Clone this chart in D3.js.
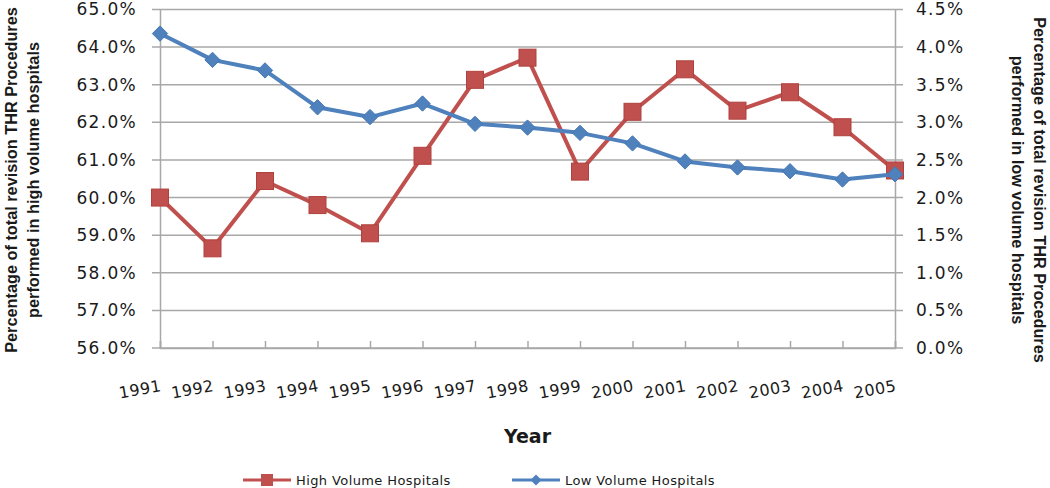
<!DOCTYPE html>
<html lang="en">
  <head>
    <meta charset="utf-8">
    <title>THR revision procedures</title>
    <script src="https://cdn.jsdelivr.net/npm/d3@7/dist/d3.min.js"></script>
    <style>
      body { margin: 0; background: #fff; }
      text { fill: #1a1a1a; }
    </style>
  </head>
  <body>
    <script>
      var w = 1050;
      var h = 488;

      var years = ["1991", "1992", "1993", "1994", "1995", "1996", "1997", "1998",
                   "1999", "2000", "2001", "2002", "2003", "2004", "2005"];
      var highVolume = [60.0, 58.65, 60.44, 59.80, 59.05, 61.11, 63.13, 63.72,
                        60.69, 62.28, 63.41, 62.31, 62.80, 61.87, 60.72];
      var lowVolume = [4.18, 3.83, 3.69, 3.20, 3.07, 3.25, 2.98, 2.93,
                       2.86, 2.72, 2.48, 2.40, 2.35, 2.24, 2.31];
      var leftTicks = [56, 57, 58, 59, 60, 61, 62, 63, 64, 65];
      var rightTicks = [0, 0.5, 1, 1.5, 2, 2.5, 3, 3.5, 4, 4.5];
      var seriesNames = ["High Volume Hospitals", "Low Volume Hospitals"];

      var red = "#c0504d";
      var blue = "#4f81bd";
      var gridColor = "#a8a8a8";

      var plotL = 160, plotR = 895, plotT = 9.5, plotB = 348;

      var xScale = d3.scalePoint().domain(years).range([plotL, plotR]);
      var yLeft = d3.scaleLinear().domain([56, 65]).range([plotB, plotT]);
      var yRight = d3.scaleLinear().domain([0, 4.5]).range([plotB, plotT]);

      var svg = d3.select("body").append("svg")
                  .attr("width", w)
                  .attr("height", h)
                  .style("font-family", "'DejaVu Sans', sans-serif");

      // horizontal gridlines
      svg.append("g").selectAll("line")
         .data(leftTicks)
         .enter()
         .append("line")
         .attr("x1", plotL - 8)
         .attr("x2", plotR + 8)
         .attr("y1", function (d) { return yLeft(d); })
         .attr("y2", function (d) { return yLeft(d); })
         .attr("stroke", gridColor)
         .attr("stroke-width", 1.5);

      // axes
      var yAxisL = d3.axisLeft(yLeft).tickValues(leftTicks)
                     .tickSize(0).tickPadding(23)
                     .tickFormat(function (d) { return d.toFixed(1) + "%"; });
      var yAxisR = d3.axisRight(yRight).tickValues(rightTicks)
                     .tickSize(0).tickPadding(21)
                     .tickFormat(function (d) { return d.toFixed(1) + "%"; });
      var xAxis = d3.axisBottom(xScale).tickSize(-7).tickFormat("");

      [[yAxisL, plotL], [yAxisR, plotR]].forEach(function (a) {
        var g = svg.append("g")
                   .attr("transform", "translate(" + a[1] + ",0)")
                   .call(a[0]);
        g.select(".domain").attr("stroke", gridColor).attr("stroke-width", 1.5);
        g.selectAll("text")
         .attr("font-size", "17px")
         .attr("letter-spacing", "1.3px")
         .attr("fill", "#1a1a1a")
         .attr("font-family", "'DejaVu Sans', sans-serif");
      });

      var gx = svg.append("g")
                  .attr("transform", "translate(0," + plotB + ")")
                  .call(xAxis);
      gx.select(".domain").attr("stroke", gridColor).attr("stroke-width", 1.5);
      gx.selectAll("line").attr("stroke", gridColor).attr("stroke-width", 1.5);

      // rotated year labels
      svg.append("g").selectAll("text")
         .data(years)
         .enter()
         .append("text")
         .attr("transform", function (d) {
           return "translate(" + (xScale(d) + 2) + ",391) rotate(-10)";
         })
         .attr("text-anchor", "end")
         .attr("font-size", "16px")
         .attr("letter-spacing", "0.5px")
         .text(function (d) { return d; });

      // series
      var line = function (scale) {
        return d3.line()
                 .x(function (d, i) { return xScale(years[i]); })
                 .y(function (d) { return scale(d); });
      };

      svg.append("path")
         .datum(highVolume)
         .attr("d", line(yLeft))
         .attr("fill", "none")
         .attr("stroke", red)
         .attr("stroke-width", 4)
         .attr("stroke-linejoin", "round");

      svg.append("g").selectAll("rect")
         .data(highVolume)
         .enter()
         .append("rect")
         .attr("x", function (d, i) { return xScale(years[i]) - 8.5; })
         .attr("y", function (d) { return yLeft(d) - 8.5; })
         .attr("width", 17)
         .attr("height", 17)
         .attr("fill", red)
         .attr("stroke", "#b0413e")
         .attr("stroke-width", 1);

      svg.append("path")
         .datum(lowVolume)
         .attr("d", line(yRight))
         .attr("fill", "none")
         .attr("stroke", blue)
         .attr("stroke-width", 4)
         .attr("stroke-linejoin", "round");

      var diamond = d3.symbol().type(d3.symbolDiamond2).size(150);
      svg.append("g").selectAll("path")
         .data(lowVolume)
         .enter()
         .append("path")
         .attr("d", diamond)
         .attr("transform", function (d, i) {
           return "translate(" + xScale(years[i]) + "," + yRight(d) + ")";
         })
         .attr("fill", blue)
         .attr("stroke", "#4577b3")
         .attr("stroke-width", 1);

      // axis titles
      svg.append("text")
         .attr("x", (plotL + plotR) / 2)
         .attr("y", 443)
         .attr("text-anchor", "middle")
         .attr("font-size", "19px")
         .attr("font-weight", "bold")
         .text("Year");

      var leftTitle = svg.append("text")
         .attr("transform", "translate(0,180) rotate(-90)")
         .attr("text-anchor", "middle")
         .attr("font-family", "'Liberation Sans', sans-serif")
         .attr("font-weight", "bold")
         .attr("font-size", "16.3px");
      leftTitle.append("tspan").attr("x", 0).attr("y", 17)
               .text("Percentage of total revision THR Procedures");
      leftTitle.append("tspan").attr("x", 0).attr("y", 39)
               .text("performed in high volume hospitals");

      var rightTitle = svg.append("text")
         .attr("transform", "translate(" + w + ",190) rotate(90)")
         .attr("text-anchor", "middle")
         .attr("font-family", "'Liberation Sans', sans-serif")
         .attr("font-weight", "bold")
         .attr("font-size", "16.3px");
      rightTitle.append("tspan").attr("x", 0).attr("y", 16)
                .text("Percentage of total revision THR Procedures");
      rightTitle.append("tspan").attr("x", 0).attr("y", 38)
                .text("performed in low volume hospitals");

      // legend
      var legend = svg.append("g").attr("transform", "translate(0,480)");
      var items = legend.selectAll("g")
         .data(seriesNames)
         .enter()
         .append("g")
         .attr("transform", function (d, i) { return "translate(" + (243 + i * 269) + ",0)"; });
      items.append("line")
           .attr("x1", 0).attr("x2", 48)
           .attr("stroke", function (d, i) { return i === 0 ? red : blue; })
           .attr("stroke-width", 3);
      items.filter(function (d, i) { return i === 0; })
           .append("rect")
           .attr("x", 18).attr("y", -6).attr("width", 12).attr("height", 12)
           .attr("fill", red);
      items.filter(function (d, i) { return i === 1; })
           .append("path")
           .attr("d", d3.symbol().type(d3.symbolDiamond2).size(80))
           .attr("transform", "translate(24,0)")
           .attr("fill", blue);
      items.append("text")
           .attr("x", 53)
           .attr("y", 5)
           .attr("font-size", "13px")
           .attr("letter-spacing", "0.4px")
           .text(function (d) { return d; });
    </script>
  </body>
</html>
